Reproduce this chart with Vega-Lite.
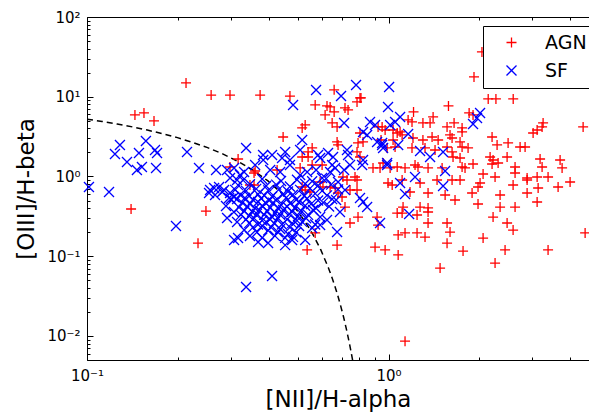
{
  "$schema": "https://vega.github.io/schema/vega-lite/v6.json",
  "autosize": {"type": "none"},
  "padding": {"left": 87, "top": 17, "right": 0, "bottom": 55},
  "width": 502,
  "height": 343,
  "background": "white",
  "config": {
    "font": "DejaVu Sans",
    "view": {"stroke": null},
    "axis": {
      "grid": false,
      "domainColor": "black",
      "domainWidth": 1,
      "tickColor": "black",
      "tickWidth": 1,
      "labelColor": "black",
      "labelFont": "DejaVu Sans",
      "labelFontSize": 15,
      "labelFlush": false,
      "labelOverlap": false,
      "labelBound": false,
      "titleFont": "DejaVu Sans",
      "titleFontSize": 23,
      "titleFontWeight": "normal",
      "titleColor": "black"
    }
  },
  "datasets": {
    "curve": [
      {"n": 0.1, "o": 5.24}, {"n": 0.1122, "o": 4.90}, {"n": 0.1259, "o": 4.55}, {"n": 0.1413, "o": 4.19},
      {"n": 0.1585, "o": 3.82}, {"n": 0.1778, "o": 3.45}, {"n": 0.1995, "o": 3.07}, {"n": 0.2239, "o": 2.68},
      {"n": 0.2512, "o": 2.30}, {"n": 0.2818, "o": 1.92}, {"n": 0.3162, "o": 1.55}, {"n": 0.3548, "o": 1.20},
      {"n": 0.3981, "o": 0.880}, {"n": 0.4467, "o": 0.596}, {"n": 0.5012, "o": 0.361}, {"n": 0.5309, "o": 0.265},
      {"n": 0.5623, "o": 0.185}, {"n": 0.5957, "o": 0.121}, {"n": 0.6310, "o": 0.0724}, {"n": 0.6457, "o": 0.0573},
      {"n": 0.6607, "o": 0.0445}, {"n": 0.6761, "o": 0.0337}, {"n": 0.6918, "o": 0.0248}, {"n": 0.7079, "o": 0.0178},
      {"n": 0.7244, "o": 0.01228}, {"n": 0.7413, "o": 0.00815}, {"n": 0.7499, "o": 0.00652}, {"n": 0.7586, "o": 0.00515},
      {"n": 0.7674, "o": 0.00401}
    ],
    "pts": [
      {"n":0.213,"o":14.9,"c":"AGN"},{"n":0.258,"o":10.5,"c":"AGN"},{"n":0.298,"o":10.5,"c":"AGN"},{"n":0.375,"o":10.5,"c":"AGN"},
      {"n":0.471,"o":10.2,"c":"AGN"},{"n":0.660,"o":12.2,"c":"AGN"},{"n":0.804,"o":9.66,"c":"AGN"},{"n":1.92,"o":17.7,"c":"AGN"},
      {"n":2.04,"o":36.5,"c":"AGN"},{"n":2.14,"o":9.38,"c":"AGN"},{"n":2.27,"o":9.38,"c":"AGN"},{"n":2.59,"o":9.38,"c":"AGN"},
      {"n":1.58,"o":7.67,"c":"AGN"},{"n":1.21,"o":6.45,"c":"AGN"},{"n":1.85,"o":6.26,"c":"AGN"},{"n":1.906,"o":5.91,"c":"AGN"},
      {"n":1.405,"o":5.58,"c":"AGN"},{"n":1.161,"o":5.12,"c":"AGN"},{"n":1.196,"o":4.83,"c":"AGN"},{"n":1.30,"o":4.69,"c":"AGN"},
      {"n":1.373,"o":4.69,"c":"AGN"},{"n":1.649,"o":4.69,"c":"AGN"},{"n":1.753,"o":4.06,"c":"AGN"},{"n":1.753,"o":3.62,"c":"AGN"},
      {"n":1.563,"o":4.18,"c":"AGN"},{"n":3.254,"o":4.69,"c":"AGN"},{"n":3.229,"o":4.18,"c":"AGN"},{"n":3.015,"o":3.51,"c":"AGN"},
      {"n":3.109,"o":3.83,"c":"AGN"},{"n":4.417,"o":4.18,"c":"AGN"},{"n":0.952,"o":4.18,"c":"AGN"},{"n":0.974,"o":3.83,"c":"AGN"},
      {"n":1.092,"o":3.62,"c":"AGN"},{"n":1.109,"o":3.32,"c":"AGN"},{"n":1.205,"o":3.04,"c":"AGN"},{"n":1.30,"o":2.87,"c":"AGN"},
      {"n":1.394,"o":3.13,"c":"AGN"},{"n":1.46,"o":2.87,"c":"AGN"},{"n":1.599,"o":3.32,"c":"AGN"},{"n":1.624,"o":3.04,"c":"AGN"},
      {"n":2.204,"o":3.13,"c":"AGN"},{"n":2.29,"o":2.485,"c":"AGN"},{"n":2.491,"o":2.633,"c":"AGN"},{"n":2.73,"o":2.345,"c":"AGN"},
      {"n":2.836,"o":2.345,"c":"AGN"},{"n":1.835,"o":2.279,"c":"AGN"},{"n":1.753,"o":2.345,"c":"AGN"},{"n":1.726,"o":2.71,"c":"AGN"},
      {"n":0.944,"o":2.87,"c":"AGN"},{"n":1.035,"o":2.87,"c":"AGN"},{"n":0.989,"o":2.279,"c":"AGN"},{"n":1.051,"o":2.345,"c":"AGN"},
      {"n":1.196,"o":2.279,"c":"AGN"},{"n":1.321,"o":2.279,"c":"AGN"},{"n":1.426,"o":2.15,"c":"AGN"},{"n":1.563,"o":2.345,"c":"AGN"},
      {"n":1.624,"o":2.03,"c":"AGN"},{"n":1.636,"o":1.756,"c":"AGN"},{"n":1.726,"o":1.706,"c":"AGN"},{"n":2.171,"o":1.756,"c":"AGN"},
      {"n":2.221,"o":1.611,"c":"AGN"},{"n":2.472,"o":1.756,"c":"AGN"},{"n":3.18,"o":1.658,"c":"AGN"},{"n":3.705,"o":1.611,"c":"AGN"},
      {"n":1.753,"o":1.316,"c":"AGN"},{"n":1.906,"o":1.435,"c":"AGN"},{"n":2.204,"o":1.435,"c":"AGN"},{"n":2.308,"o":1.477,"c":"AGN"},
      {"n":2.627,"o":1.316,"c":"AGN"},{"n":3.229,"o":1.316,"c":"AGN"},{"n":3.762,"o":1.279,"c":"AGN"},{"n":0.959,"o":1.477,"c":"AGN"},
      {"n":1.068,"o":1.316,"c":"AGN"},{"n":1.134,"o":1.279,"c":"AGN"},{"n":1.224,"o":1.394,"c":"AGN"},{"n":1.252,"o":1.316,"c":"AGN"},
      {"n":1.352,"o":1.279,"c":"AGN"},{"n":1.505,"o":1.279,"c":"AGN"},{"n":1.793,"o":1.279,"c":"AGN"},{"n":2.058,"o":1.075,"c":"AGN"},
      {"n":2.255,"o":0.986,"c":"AGN"},{"n":2.627,"o":1.107,"c":"AGN"},{"n":2.88,"o":0.958,"c":"AGN"},{"n":3.109,"o":0.986,"c":"AGN"},
      {"n":3.38,"o":0.986,"c":"AGN"},{"n":0.996,"o":0.829,"c":"AGN"},{"n":1.028,"o":0.782,"c":"AGN"},{"n":1.109,"o":0.904,"c":"AGN"},
      {"n":1.272,"o":0.829,"c":"AGN"},{"n":1.448,"o":0.904,"c":"AGN"},{"n":1.624,"o":0.904,"c":"AGN"},{"n":1.726,"o":0.904,"c":"AGN"},
      {"n":2.011,"o":0.829,"c":"AGN"},{"n":1.98,"o":0.738,"c":"AGN"},{"n":2.588,"o":0.782,"c":"AGN"},{"n":2.88,"o":0.904,"c":"AGN"},
      {"n":3.133,"o":0.717,"c":"AGN"},{"n":3.649,"o":0.738,"c":"AGN"},{"n":3.999,"o":0.853,"c":"AGN"},{"n":1.178,"o":0.639,"c":"AGN"},
      {"n":1.352,"o":0.621,"c":"AGN"},{"n":1.54,"o":0.586,"c":"AGN"},{"n":1.892,"o":0.621,"c":"AGN"},{"n":2.343,"o":0.586,"c":"AGN"},
      {"n":2.88,"o":0.621,"c":"AGN"},{"n":3.109,"o":0.479,"c":"AGN"},{"n":1.661,"o":0.507,"c":"AGN"},{"n":1.98,"o":0.452,"c":"AGN"},
      {"n":2.343,"o":0.414,"c":"AGN"},{"n":2.627,"o":0.414,"c":"AGN"},{"n":1.117,"o":0.414,"c":"AGN"},{"n":1.272,"o":0.414,"c":"AGN"},
      {"n":1.352,"o":0.403,"c":"AGN"},{"n":1.109,"o":0.348,"c":"AGN"},{"n":1.243,"o":0.329,"c":"AGN"},{"n":1.352,"o":0.359,"c":"AGN"},
      {"n":2.221,"o":0.310,"c":"AGN"},{"n":2.472,"o":0.261,"c":"AGN"},{"n":1.352,"o":0.261,"c":"AGN"},{"n":1.563,"o":0.261,"c":"AGN"},
      {"n":2.588,"o":0.213,"c":"AGN"},{"n":1.599,"o":0.201,"c":"AGN"},{"n":1.076,"o":0.185,"c":"AGN"},{"n":1.134,"o":0.196,"c":"AGN"},
      {"n":1.243,"o":0.196,"c":"AGN"},{"n":1.321,"o":0.174,"c":"AGN"},{"n":2.058,"o":0.169,"c":"AGN"},{"n":4.485,"o":0.196,"c":"AGN"},
      {"n":1.563,"o":0.146,"c":"AGN"},{"n":0.974,"o":0.120,"c":"AGN"},{"n":1.076,"o":0.104,"c":"AGN"},{"n":1.766,"o":0.116,"c":"AGN"},
      {"n":2.434,"o":0.120,"c":"AGN"},{"n":3.38,"o":0.120,"c":"AGN"},{"n":1.482,"o":0.0711,"c":"AGN"},{"n":2.255,"o":0.0822,"c":"AGN"},
      {"n":1.134,"o":0.0086,"c":"AGN"},{"n":0.571,"o":7.89,"c":"AGN"},{"n":0.625,"o":7.67,"c":"AGN"},{"n":0.640,"o":7.45,"c":"AGN"},
      {"n":0.660,"o":6.45,"c":"AGN"},{"n":0.616,"o":5.91,"c":"AGN"},{"n":0.717,"o":7.24,"c":"AGN"},{"n":0.734,"o":6.83,"c":"AGN"},
      {"n":0.786,"o":8.61,"c":"AGN"},{"n":0.810,"o":9.66,"c":"AGN"},{"n":0.650,"o":4.69,"c":"AGN"},{"n":0.675,"o":4.18,"c":"AGN"},
      {"n":0.529,"o":4.43,"c":"AGN"},{"n":0.517,"o":4.06,"c":"AGN"},{"n":0.447,"o":3.13,"c":"AGN"},{"n":0.804,"o":3.51,"c":"AGN"},
      {"n":0.923,"o":4.18,"c":"AGN"},{"n":1.035,"o":3.83,"c":"AGN"},{"n":1.068,"o":3.51,"c":"AGN"},{"n":0.675,"o":2.71,"c":"AGN"},
      {"n":0.680,"o":2.485,"c":"AGN"},{"n":0.792,"o":2.633,"c":"AGN"},{"n":0.823,"o":2.71,"c":"AGN"},{"n":0.888,"o":1.279,"c":"AGN"},
      {"n":0.937,"o":1.279,"c":"AGN"},{"n":1.012,"o":1.279,"c":"AGN"},{"n":0.558,"o":2.279,"c":"AGN"},{"n":0.541,"o":2.03,"c":"AGN"},
      {"n":0.517,"o":1.756,"c":"AGN"},{"n":0.541,"o":1.756,"c":"AGN"},{"n":0.786,"o":2.03,"c":"AGN"},{"n":0.804,"o":1.756,"c":"AGN"},
      {"n":0.509,"o":1.279,"c":"AGN"},{"n":0.558,"o":1.394,"c":"AGN"},{"n":0.602,"o":1.394,"c":"AGN"},{"n":0.706,"o":0.986,"c":"AGN"},
      {"n":0.728,"o":0.904,"c":"AGN"},{"n":0.774,"o":0.986,"c":"AGN"},{"n":0.786,"o":0.904,"c":"AGN"},{"n":0.640,"o":0.738,"c":"AGN"},
      {"n":0.665,"o":0.717,"c":"AGN"},{"n":0.680,"o":0.621,"c":"AGN"},{"n":0.701,"o":0.553,"c":"AGN"},{"n":0.745,"o":0.677,"c":"AGN"},
      {"n":0.786,"o":0.677,"c":"AGN"},{"n":0.717,"o":0.414,"c":"AGN"},{"n":0.792,"o":0.310,"c":"AGN"},{"n":0.916,"o":0.310,"c":"AGN"},
      {"n":0.923,"o":0.246,"c":"AGN"},{"n":1.068,"o":0.348,"c":"AGN"},{"n":0.745,"o":0.261,"c":"AGN"},{"n":0.593,"o":0.853,"c":"AGN"},
      {"n":0.606,"o":0.738,"c":"AGN"},{"n":0.571,"o":0.196,"c":"AGN"},{"n":0.675,"o":0.138,"c":"AGN"},{"n":0.537,"o":0.120,"c":"AGN"},
      {"n":0.902,"o":0.130,"c":"AGN"},{"n":0.517,"o":0.738,"c":"AGN"},{"n":0.529,"o":0.677,"c":"AGN"},{"n":0.549,"o":0.639,"c":"AGN"},
      {"n":0.361,"o":1.172,"c":"AGN"},{"n":0.427,"o":1.207,"c":"AGN"},{"n":0.347,"o":0.782,"c":"AGN"},{"n":0.358,"o":0.782,"c":"AGN"},
      {"n":0.358,"o":1.107,"c":"AGN"},{"n":0.317,"o":1.658,"c":"AGN"},{"n":0.298,"o":1.316,"c":"AGN"},{"n":0.1442,"o":5.91,"c":"AGN"},
      {"n":0.1545,"o":6.26,"c":"AGN"},{"n":0.1668,"o":4.97,"c":"AGN"},{"n":0.140,"o":0.391,"c":"AGN"},{"n":0.248,"o":0.369,"c":"AGN"},
      {"n":0.2334,"o":0.146,"c":"AGN"},

      {"n":0.1015,"o":0.738,"c":"SF"},{"n":0.1183,"o":0.639,"c":"SF"},{"n":0.1286,"o":2.485,"c":"SF"},{"n":0.1238,"o":1.915,"c":"SF"},
      {"n":0.1357,"o":1.52,"c":"SF"},{"n":0.1487,"o":1.972,"c":"SF"},{"n":0.1568,"o":2.79,"c":"SF"},{"n":0.1464,"o":1.207,"c":"SF"},
      {"n":0.1521,"o":1.316,"c":"SF"},{"n":0.1681,"o":2.15,"c":"SF"},{"n":0.1707,"o":1.972,"c":"SF"},{"n":0.1694,"o":1.279,"c":"SF"},
      {"n":0.2146,"o":2.03,"c":"SF"},{"n":0.2352,"o":1.279,"c":"SF"},{"n":0.2679,"o":1.207,"c":"SF"},{"n":0.2914,"o":1.207,"c":"SF"},
      {"n":0.3074,"o":1.279,"c":"SF"},{"n":0.3369,"o":2.279,"c":"SF"},{"n":0.1973,"o":0.2393,"c":"SF"},{"n":0.2914,"o":0.3016,"c":"SF"},
      {"n":0.3074,"o":0.1597,"c":"SF"},{"n":0.2539,"o":0.621,"c":"SF"},{"n":0.2639,"o":0.717,"c":"SF"},{"n":0.2741,"o":0.738,"c":"SF"},
      {"n":0.2848,"o":0.677,"c":"SF"},{"n":0.2559,"o":0.677,"c":"SF"},{"n":0.2658,"o":0.586,"c":"SF"},{"n":0.2981,"o":0.621,"c":"SF"},
      {"n":0.3074,"o":0.553,"c":"SF"},{"n":0.2959,"o":0.5375,"c":"SF"},{"n":0.2981,"o":0.958,"c":"SF"},{"n":0.3145,"o":0.904,"c":"SF"},
      {"n":0.3218,"o":1.045,"c":"SF"},{"n":0.3318,"o":1.139,"c":"SF"},{"n":0.3369,"o":0.0411,"c":"SF"},{"n":0.4108,"o":0.0564,"c":"SF"},
      {"n":0.3169,"o":0.169,"c":"SF"},{"n":0.3692,"o":0.1507,"c":"SF"},{"n":0.3985,"o":0.1464,"c":"SF"},{"n":0.4787,"o":0.1597,"c":"SF"},
      {"n":0.4823,"o":7.89,"c":"SF"},{"n":0.5749,"o":12.17,"c":"SF"},{"n":0.6957,"o":10.2,"c":"SF"},{"n":0.7802,"o":14.06,"c":"SF"},
      {"n":1.004,"o":13.27,"c":"SF"},{"n":0.996,"o":7.45,"c":"SF"},{"n":1.092,"o":5.58,"c":"SF"},{"n":1.012,"o":4.43,"c":"SF"},
      {"n":1.161,"o":3.414,"c":"SF"},{"n":1.076,"o":2.485,"c":"SF"},{"n":0.952,"o":2.633,"c":"SF"},{"n":0.959,"o":2.279,"c":"SF"},
      {"n":0.989,"o":1.394,"c":"SF"},{"n":1.272,"o":2.089,"c":"SF"},{"n":1.373,"o":1.756,"c":"SF"},{"n":1.516,"o":2.03,"c":"SF"},
      {"n":1.54,"o":1.172,"c":"SF"},{"n":1.224,"o":0.986,"c":"SF"},{"n":1.092,"o":0.829,"c":"SF"},{"n":1.134,"o":0.603,"c":"SF"},
      {"n":1.516,"o":0.760,"c":"SF"},{"n":1.17,"o":0.3385,"c":"SF"},{"n":1.965,"o":5.42,"c":"SF"},{"n":2.011,"o":6.26,"c":"SF"},
      {"n":1.906,"o":4.56,"c":"SF"},{"n":0.937,"o":0.261,"c":"SF"},{"n":0.712,"o":4.69,"c":"SF"},{"n":0.868,"o":4.83,"c":"SF"},
      {"n":0.902,"o":4.43,"c":"SF"},{"n":1.051,"o":4.83,"c":"SF"},{"n":0.517,"o":2.87,"c":"SF"},{"n":0.823,"o":3.62,"c":"SF"},
      {"n":0.849,"o":3.32,"c":"SF"},{"n":0.916,"o":2.71,"c":"SF"},{"n":0.952,"o":2.485,"c":"SF"},{"n":0.3836,"o":1.861,"c":"SF"},
      {"n":0.4108,"o":1.861,"c":"SF"},{"n":0.593,"o":1.706,"c":"SF"},{"n":0.630,"o":1.972,"c":"SF"},{"n":0.6545,"o":1.756,"c":"SF"},
      {"n":0.728,"o":2.15,"c":"SF"},{"n":0.734,"o":1.861,"c":"SF"},{"n":0.823,"o":1.611,"c":"SF"},{"n":0.817,"o":1.394,"c":"SF"},
      {"n":0.989,"o":1.477,"c":"SF"},{"n":0.4434,"o":1.706,"c":"SF"},{"n":0.471,"o":1.611,"c":"SF"},{"n":0.650,"o":1.394,"c":"SF"},
      {"n":0.665,"o":1.279,"c":"SF"},{"n":0.804,"o":0.5375,"c":"SF"},{"n":0.823,"o":0.479,"c":"SF"},{"n":0.849,"o":0.414,"c":"SF"},
      {"n":0.675,"o":0.201,"c":"SF"},

      {"n":0.329,"o":0.90,"c":"SF"},{"n":0.381,"o":0.93,"c":"SF"},{"n":0.440,"o":0.88,"c":"SF"},{"n":0.497,"o":0.91,"c":"SF"},{"n":0.558,"o":0.87,"c":"SF"},{"n":0.621,"o":0.94,"c":"SF"},
      {"n":0.317,"o":0.78,"c":"SF"},{"n":0.347,"o":0.80,"c":"SF"},{"n":0.3925,"o":0.76,"c":"SF"},{"n":0.424,"o":0.79,"c":"SF"},{"n":0.471,"o":0.75,"c":"SF"},{"n":0.529,"o":0.81,"c":"SF"},{"n":0.584,"o":0.77,"c":"SF"},{"n":0.645,"o":0.79,"c":"SF"},
      {"n":0.310,"o":0.68,"c":"SF"},{"n":0.337,"o":0.66,"c":"SF"},{"n":0.364,"o":0.70,"c":"SF"},{"n":0.399,"o":0.67,"c":"SF"},{"n":0.433,"o":0.69,"c":"SF"},{"n":0.464,"o":0.65,"c":"SF"},{"n":0.509,"o":0.68,"c":"SF"},{"n":0.549,"o":0.71,"c":"SF"},{"n":0.602,"o":0.66,"c":"SF"},{"n":0.680,"o":0.69,"c":"SF"},
      {"n":0.322,"o":0.59,"c":"SF"},{"n":0.345,"o":0.57,"c":"SF"},{"n":0.369,"o":0.60,"c":"SF"},{"n":0.387,"o":0.58,"c":"SF"},{"n":0.411,"o":0.56,"c":"SF"},{"n":0.447,"o":0.60,"c":"SF"},{"n":0.482,"o":0.59,"c":"SF"},{"n":0.525,"o":0.57,"c":"SF"},{"n":0.571,"o":0.61,"c":"SF"},{"n":0.625,"o":0.58,"c":"SF"},
      {"n":0.3145,"o":0.52,"c":"SF"},{"n":0.334,"o":0.54,"c":"SF"},{"n":0.355,"o":0.51,"c":"SF"},{"n":0.378,"o":0.53,"c":"SF"},{"n":0.402,"o":0.50,"c":"SF"},{"n":0.427,"o":0.52,"c":"SF"},{"n":0.457,"o":0.54,"c":"SF"},{"n":0.494,"o":0.51,"c":"SF"},{"n":0.537,"o":0.53,"c":"SF"},{"n":0.584,"o":0.50,"c":"SF"},{"n":0.650,"o":0.52,"c":"SF"},
      {"n":0.327,"o":0.47,"c":"SF"},{"n":0.347,"o":0.45,"c":"SF"},{"n":0.369,"o":0.48,"c":"SF"},{"n":0.3925,"o":0.46,"c":"SF"},{"n":0.414,"o":0.47,"c":"SF"},{"n":0.440,"o":0.44,"c":"SF"},{"n":0.471,"o":0.46,"c":"SF"},{"n":0.505,"o":0.48,"c":"SF"},{"n":0.553,"o":0.45,"c":"SF"},{"n":0.607,"o":0.47,"c":"SF"},
      {"n":0.319,"o":0.41,"c":"SF"},{"n":0.340,"o":0.42,"c":"SF"},{"n":0.361,"o":0.40,"c":"SF"},{"n":0.381,"o":0.43,"c":"SF"},{"n":0.405,"o":0.41,"c":"SF"},{"n":0.430,"o":0.40,"c":"SF"},{"n":0.461,"o":0.42,"c":"SF"},{"n":0.490,"o":0.41,"c":"SF"},{"n":0.529,"o":0.43,"c":"SF"},{"n":0.575,"o":0.40,"c":"SF"},{"n":0.635,"o":0.42,"c":"SF"},
      {"n":0.332,"o":0.37,"c":"SF"},{"n":0.353,"o":0.36,"c":"SF"},{"n":0.372,"o":0.38,"c":"SF"},{"n":0.3955,"o":0.37,"c":"SF"},{"n":0.420,"o":0.35,"c":"SF"},{"n":0.447,"o":0.38,"c":"SF"},{"n":0.479,"o":0.36,"c":"SF"},{"n":0.513,"o":0.37,"c":"SF"},{"n":0.562,"o":0.38,"c":"SF"},
      {"n":0.324,"o":0.33,"c":"SF"},{"n":0.345,"o":0.32,"c":"SF"},{"n":0.366,"o":0.34,"c":"SF"},{"n":0.387,"o":0.33,"c":"SF"},{"n":0.411,"o":0.31,"c":"SF"},{"n":0.437,"o":0.33,"c":"SF"},{"n":0.468,"o":0.34,"c":"SF"},{"n":0.501,"o":0.32,"c":"SF"},{"n":0.541,"o":0.33,"c":"SF"},{"n":0.593,"o":0.31,"c":"SF"},
      {"n":0.337,"o":0.29,"c":"SF"},{"n":0.358,"o":0.30,"c":"SF"},{"n":0.381,"o":0.28,"c":"SF"},{"n":0.405,"o":0.29,"c":"SF"},{"n":0.430,"o":0.30,"c":"SF"},{"n":0.461,"o":0.29,"c":"SF"},{"n":0.497,"o":0.28,"c":"SF"},{"n":0.533,"o":0.30,"c":"SF"},
      {"n":0.345,"o":0.26,"c":"SF"},{"n":0.369,"o":0.25,"c":"SF"},{"n":0.3925,"o":0.27,"c":"SF"},{"n":0.417,"o":0.26,"c":"SF"},{"n":0.443,"o":0.25,"c":"SF"},{"n":0.479,"o":0.26,"c":"SF"},{"n":0.517,"o":0.27,"c":"SF"},{"n":0.571,"o":0.25,"c":"SF"},
      {"n":0.355,"o":0.23,"c":"SF"},{"n":0.381,"o":0.24,"c":"SF"},{"n":0.408,"o":0.23,"c":"SF"},{"n":0.437,"o":0.22,"c":"SF"},{"n":0.471,"o":0.23,"c":"SF"},{"n":0.505,"o":0.24,"c":"SF"},
      {"n":0.366,"o":0.20,"c":"SF"},{"n":0.399,"o":0.21,"c":"SF"},{"n":0.430,"o":0.20,"c":"SF"},{"n":0.464,"o":0.19,"c":"SF"},{"n":0.494,"o":0.20,"c":"SF"},
      {"n":0.381,"o":0.17,"c":"SF"},{"n":0.420,"o":0.18,"c":"SF"},{"n":0.454,"o":0.17,"c":"SF"},{"n":0.482,"o":0.175,"c":"SF"},
      {"n":0.2805,"o":0.639,"c":"SF"},{"n":0.300,"o":0.522,"c":"SF"},{"n":0.289,"o":0.4266,"c":"SF"},{"n":0.307,"o":0.359,"c":"SF"},
      {"n":0.3145,"o":0.269,"c":"SF"},{"n":0.332,"o":0.213,"c":"SF"},{"n":0.347,"o":0.179,"c":"SF"},{"n":0.454,"o":0.138,"c":"SF"},
      {"n":0.529,"o":0.160,"c":"SF"},{"n":0.558,"o":0.226,"c":"SF"},{"n":0.361,"o":1.394,"c":"SF"},{"n":0.384,"o":1.611,"c":"SF"},
      {"n":0.405,"o":1.207,"c":"SF"},{"n":0.437,"o":1.139,"c":"SF"},{"n":0.471,"o":1.394,"c":"SF"},{"n":0.509,"o":1.045,"c":"SF"},
      {"n":0.537,"o":1.139,"c":"SF"},{"n":0.575,"o":1.207,"c":"SF"},{"n":0.602,"o":0.958,"c":"SF"},{"n":0.640,"o":1.139,"c":"SF"},
      {"n":0.680,"o":0.853,"c":"SF"},{"n":0.712,"o":1.207,"c":"SF"},{"n":0.745,"o":1.394,"c":"SF"},{"n":0.717,"o":0.677,"c":"SF"},
      {"n":0.670,"o":0.507,"c":"SF"},{"n":0.690,"o":0.359,"c":"SF"},{"n":0.625,"o":0.285,"c":"SF"},{"n":0.593,"o":0.246,"c":"SF"},
      {"n":0.584,"o":1.861,"c":"SF"},{"n":0.509,"o":2.15,"c":"SF"},{"n":0.454,"o":2.03,"c":"SF"}
    ]
  },
  "layer": [
    {
      "data": {"name": "curve"},
      "mark": {"type": "line", "color": "black", "strokeWidth": 1.5, "strokeDash": [6, 4], "clip": true},
      "encoding": {
        "x": {
          "field": "n", "type": "quantitative",
          "scale": {"type": "log", "domain": [0.1, 4.62], "nice": false},
          "axis": {
            "orient": "bottom",
            "values": [0.1, 0.2, 0.3, 0.4, 0.5, 0.6, 0.7, 0.8, 0.9, 1, 2, 3, 4],
            "labelExpr": "datum.value == 0.1 ? '10⁻¹' : datum.value == 1 ? '10⁰' : ''",
            "tickSize": {"condition": {"test": "datum.value == 0.1 || datum.value == 1", "value": -6}, "value": -3},
            "labelPadding": 14,
            "title": "[NII]/H-alpha",
            "titlePadding": 2
          }
        },
        "y": {
          "field": "o", "type": "quantitative",
          "scale": {"type": "log", "domain": [0.005, 100], "nice": false},
          "axis": {
            "orient": "left",
            "values": [0.005, 0.006, 0.007, 0.008, 0.009, 0.01, 0.02, 0.03, 0.04, 0.05, 0.06, 0.07, 0.08, 0.09, 0.1, 0.2, 0.3, 0.4, 0.5, 0.6, 0.7, 0.8, 0.9, 1, 2, 3, 4, 5, 6, 7, 8, 9, 10, 20, 30, 40, 50, 60, 70, 80, 90, 100],
            "labelExpr": "datum.value == 0.01 ? '10⁻²' : datum.value == 0.1 ? '10⁻¹' : datum.value == 1 ? '10⁰' : datum.value == 10 ? '10¹' : datum.value == 100 ? '10²' : ''",
            "tickSize": {"condition": {"test": "datum.value == 0.01 || datum.value == 0.1 || datum.value == 1 || datum.value == 10 || datum.value == 100", "value": -6}, "value": -3},
            "labelPadding": 13,
            "title": "[OIII]/H-beta",
            "titlePadding": 8
          }
        }
      }
    },
    {
      "data": {"name": "pts"},
      "mark": {"type": "point", "filled": false, "size": 100, "strokeWidth": 1.3, "opacity": 1},
      "encoding": {
        "x": {
          "field": "n", "type": "quantitative",
          "scale": {"type": "log", "domain": [0.1, 4.62], "nice": false},
          "axis": {
            "orient": "top",
            "values": [0.1, 0.2, 0.3, 0.4, 0.5, 0.6, 0.7, 0.8, 0.9, 1, 2, 3, 4],
            "labels": false,
            "title": null,
            "tickSize": {"condition": {"test": "datum.value == 0.1 || datum.value == 1", "value": -6}, "value": -3}
          }
        },
        "y": {
          "field": "o", "type": "quantitative",
          "scale": {"type": "log", "domain": [0.005, 100], "nice": false},
          "axis": null
        },
        "color": {
          "field": "c", "type": "nominal",
          "scale": {"domain": ["AGN", "SF"], "range": ["#ff0000", "#0000ff"]},
          "legend": {
            "title": null,
            "orient": "none",
            "legendX": 396,
            "legendY": 9,
            "strokeColor": "black",
            "fillColor": "white",
            "padding": 7,
            "symbolOffset": 12,
            "labelOffset": 24,
            "labelFontSize": 19,
            "labelFont": "DejaVu Sans",
            "labelColor": "black",
            "rowPadding": 8,
            "symbolStrokeWidth": 1.3,
            "labelExpr": "datum.label + '          '"
          }
        },
        "shape": {
          "field": "c", "type": "nominal",
          "scale": {"domain": ["AGN", "SF"], "range": ["M-1,0L1,0M0,-1L0,1", "M-1,-1L1,1M-1,1L1,-1"]},
          "legend": {
            "title": null,
            "orient": "none",
            "legendX": 396,
            "legendY": 9,
            "strokeColor": "black",
            "fillColor": "white",
            "padding": 7,
            "symbolOffset": 12,
            "labelOffset": 24,
            "labelFontSize": 19,
            "labelFont": "DejaVu Sans",
            "labelColor": "black",
            "rowPadding": 8,
            "symbolStrokeWidth": 1.3,
            "labelExpr": "datum.label + '          '"
          }
        }
      }
    }
  ],
  "resolve": {"axis": {"x": "independent", "y": "independent"}}
}
